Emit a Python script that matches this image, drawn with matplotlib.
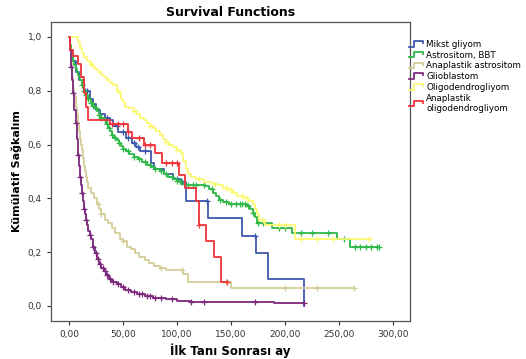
import numpy as np
import matplotlib
matplotlib.use("Agg")
import matplotlib.pyplot as plt
from matplotlib.legend_handler import HandlerBase
from matplotlib.lines import Line2D

# Kaplan-Meier step data (time in months, survival)
mikst_t = [0, 1, 3, 6, 9, 14, 19, 22, 25, 29, 33, 38, 41, 45, 53, 58, 62, 66, 76, 79, 88, 96, 104, 108, 129, 160, 173, 184, 218]
mikst_s = [1.0, 0.95, 0.91, 0.87, 0.84, 0.80, 0.77, 0.75, 0.73, 0.715, 0.70, 0.69, 0.67, 0.648, 0.625, 0.605, 0.59, 0.575, 0.53, 0.51, 0.49, 0.47, 0.46, 0.39, 0.325, 0.26, 0.195, 0.10, 0.0]
mikst_end = 218
mikst_c = [15, 17, 35, 44, 50, 55, 60, 64, 70, 100, 105, 128, 172]

astro_t = [0, 1, 2, 3, 4, 5, 6, 7, 8, 9, 10, 12, 14, 16, 18, 20, 22, 24, 26, 28, 30, 32, 34, 36, 38, 40, 42, 44, 46, 48, 50, 53, 56, 60, 64, 68, 72, 76, 80, 84, 88, 92, 96, 100, 104, 108, 126, 130, 133, 136, 139, 143, 148, 165, 168, 170, 172, 174, 188, 207, 248, 260]
astro_s = [1.0, 0.97, 0.95, 0.93, 0.91, 0.895, 0.88, 0.87, 0.86, 0.85, 0.84, 0.82, 0.80, 0.785, 0.77, 0.755, 0.745, 0.735, 0.725, 0.71, 0.70, 0.69, 0.675, 0.66, 0.65, 0.635, 0.625, 0.615, 0.605, 0.595, 0.585, 0.575, 0.565, 0.555, 0.545, 0.535, 0.525, 0.515, 0.51, 0.50, 0.49, 0.48, 0.47, 0.465, 0.455, 0.45, 0.445, 0.435, 0.42, 0.41, 0.395, 0.385, 0.38, 0.37, 0.36, 0.345, 0.33, 0.31, 0.29, 0.27, 0.25, 0.22]
astro_end = 287
astro_c = [12, 14, 16, 18, 20, 22, 25, 28, 30, 33, 35, 37, 40, 43, 46, 50, 55, 60, 65, 70, 75, 80, 85, 90, 95, 100, 103,
           110, 115, 118, 125, 132, 140, 145, 150, 155, 158, 160, 163, 166, 170, 175, 180, 195, 200, 215, 225, 240, 255,
           265, 270, 275, 280, 285, 287]

anaast_t = [0, 1, 2, 3, 4, 5, 6, 7, 8, 9, 10, 11, 12, 13, 14, 15, 16, 17, 18, 20, 23, 26, 28, 30, 33, 36, 40, 43, 47, 50, 54, 57, 61, 65, 70, 74, 79, 84, 90, 106, 110, 150]
anaast_s = [1.0, 0.95, 0.90, 0.85, 0.81, 0.78, 0.74, 0.71, 0.68, 0.65, 0.62, 0.60, 0.58, 0.55, 0.52, 0.50, 0.48, 0.46, 0.44, 0.42, 0.40, 0.38, 0.36, 0.34, 0.32, 0.31, 0.29, 0.27, 0.25, 0.24, 0.22, 0.21, 0.195, 0.18, 0.17, 0.16, 0.15, 0.14, 0.135, 0.12, 0.09, 0.065]
anaast_end = 264
anaast_c = [27, 30, 50, 85, 105, 145, 200, 230, 264]

glio_t = [0, 1, 2, 3, 4, 5, 6, 7, 8, 9, 10, 11, 12, 13, 14, 15, 16, 17, 18, 19, 20, 22, 24, 26, 28, 30, 32, 34, 37, 40, 44, 48, 52, 57, 63, 70, 78, 90, 100, 112, 190]
glio_s = [1.0, 0.95, 0.89, 0.84, 0.79, 0.73, 0.68, 0.62, 0.56, 0.52, 0.48, 0.45, 0.42, 0.39, 0.36, 0.34, 0.32, 0.30, 0.28, 0.265, 0.25, 0.22, 0.195, 0.175, 0.155, 0.14, 0.13, 0.115, 0.10, 0.09, 0.08, 0.07, 0.06, 0.052, 0.045, 0.038, 0.03, 0.025, 0.02, 0.015, 0.01]
glio_end = 218
glio_c = [2, 4, 6, 8, 10, 12, 14, 16, 19, 22, 25, 27, 29, 31, 33, 35, 38, 41, 45, 50, 55, 60, 65, 68, 72, 75, 80,
          85, 95, 113, 125, 172, 218]

oligo_t = [0, 8, 10, 12, 14, 17, 19, 22, 24, 27, 30, 32, 35, 38, 41, 44, 46, 48, 50, 52, 56, 60, 63, 66, 69, 72, 75, 78, 81, 84, 87, 90, 93, 96, 100, 104, 106, 108, 110, 113, 118, 125, 132, 138, 143, 148, 152, 156, 161, 166, 170, 172, 174, 176, 182, 209]
oligo_s = [1.0, 0.98, 0.96, 0.94, 0.925, 0.91, 0.90, 0.89, 0.88, 0.87, 0.86, 0.85, 0.84, 0.83, 0.82, 0.80, 0.79, 0.77, 0.76, 0.74, 0.735, 0.725, 0.715, 0.70, 0.69, 0.68, 0.67, 0.66, 0.65, 0.635, 0.62, 0.61, 0.60, 0.59, 0.58, 0.57, 0.54, 0.51, 0.49, 0.48, 0.47, 0.46, 0.455, 0.45, 0.44, 0.43, 0.42, 0.41, 0.40, 0.39, 0.38, 0.36, 0.34, 0.32, 0.30, 0.25]
oligo_end = 278
oligo_c = [20, 45, 60, 75, 90, 100, 120, 135, 145, 150, 160, 165, 180, 195, 200, 215, 230, 245, 278]

anaoli_t = [0, 1, 4, 8, 11, 14, 16, 18, 38, 55, 58, 69, 80, 86, 102, 107, 118, 120, 127, 134, 141]
anaoli_s = [1.0, 0.95, 0.93, 0.90, 0.85, 0.79, 0.74, 0.69, 0.675, 0.645, 0.623, 0.60, 0.567, 0.53, 0.487, 0.44, 0.39, 0.30, 0.24, 0.18, 0.09]
anaoli_end = 146
anaoli_c = [40, 45, 50, 55, 65, 70, 75, 90, 95, 100, 120, 146]

labels = ["Mikst gliyom", "Astrositom, BBT", "Anaplastik astrositom", "Glioblastom",
          "Oligodendrogliyom", "Anaplastik\noligodendrogliyom"]
colors = ["#3E58AC", "#2EB848", "#D3CE97", "#7C287D", "#FBF873", "#EF3338"]

groups = [
    (mikst_t, mikst_s, mikst_end, mikst_c),
    (astro_t, astro_s, astro_end, astro_c),
    (anaast_t, anaast_s, anaast_end, anaast_c),
    (glio_t, glio_s, glio_end, glio_c),
    (oligo_t, oligo_s, oligo_end, oligo_c),
    (anaoli_t, anaoli_s, anaoli_end, anaoli_c),
]


class StepHandler(HandlerBase):
    # small step glyph like the SPSS legend
    def create_artists(self, legend, orig_handle, xdescent, ydescent, width, height, fontsize, trans):
        x0, w, h = -xdescent, width, height
        xs = [x0, x0 + 0.3 * w, x0 + 0.3 * w, x0 + 0.9 * w, x0 + 0.9 * w]
        ys = [0.05 * h, 0.05 * h, 0.95 * h, 0.95 * h, 0.6 * h]
        ln = Line2D(xs, ys, color=orig_handle.get_color(), lw=1.3, transform=trans)
        return [ln]


fig = plt.figure(figsize=(5.26, 3.59), dpi=100)
ax = fig.add_axes([0.097, 0.106, 0.682, 0.833])

handles = []
for (t, s, end, c), col, lab in zip(groups, colors, labels):
    t = np.array(t, dtype=float)
    s = np.array(s, dtype=float)
    tt = np.append(t, end)
    ss = np.append(s, s[-1])
    ln, = ax.step(tt, ss, where="post", color=col, lw=1.3, label=lab)
    c = np.array(c, dtype=float)
    idx = np.searchsorted(t, c, side="right") - 1
    ax.plot(c, s[idx], linestyle="none", marker="+", ms=4, mew=0.9, color=col)
    handles.append(ln)

ax.set_xlim(-16.7, 315.7)
ax.set_ylim(-0.056, 1.056)
xt = [0, 50, 100, 150, 200, 250, 300]
yt = [0.0, 0.2, 0.4, 0.6, 0.8, 1.0]
ax.set_xticks(xt)
ax.set_xticklabels([("%.2f" % v).replace(".", ",") for v in xt])
ax.set_yticks(yt)
ax.set_yticklabels([("%.1f" % v).replace(".", ",") for v in yt])
ax.tick_params(labelsize=6.5, length=3, width=0.8, colors="#333333")
for sp in ax.spines.values():
    sp.set_color("#555555")
    sp.set_linewidth(0.9)

ax.set_title("Survival Functions", fontsize=9, fontweight="bold", pad=4)
ax.set_xlabel("İlk Tanı Sonrası ay", fontsize=8.5, fontweight="bold", labelpad=3)
ax.set_ylabel("Kümülatif Sağkalım", fontsize=8, fontweight="bold", labelpad=4)

leg = ax.legend(handles=handles, loc="upper left", bbox_to_anchor=(0.998, 0.94), frameon=False,
                fontsize=6.3, handler_map={Line2D: StepHandler()}, handlelength=1.8, handletextpad=0.15,
                labelspacing=0.2, borderaxespad=0, borderpad=0)

fig.savefig("out.png", dpi=100)
